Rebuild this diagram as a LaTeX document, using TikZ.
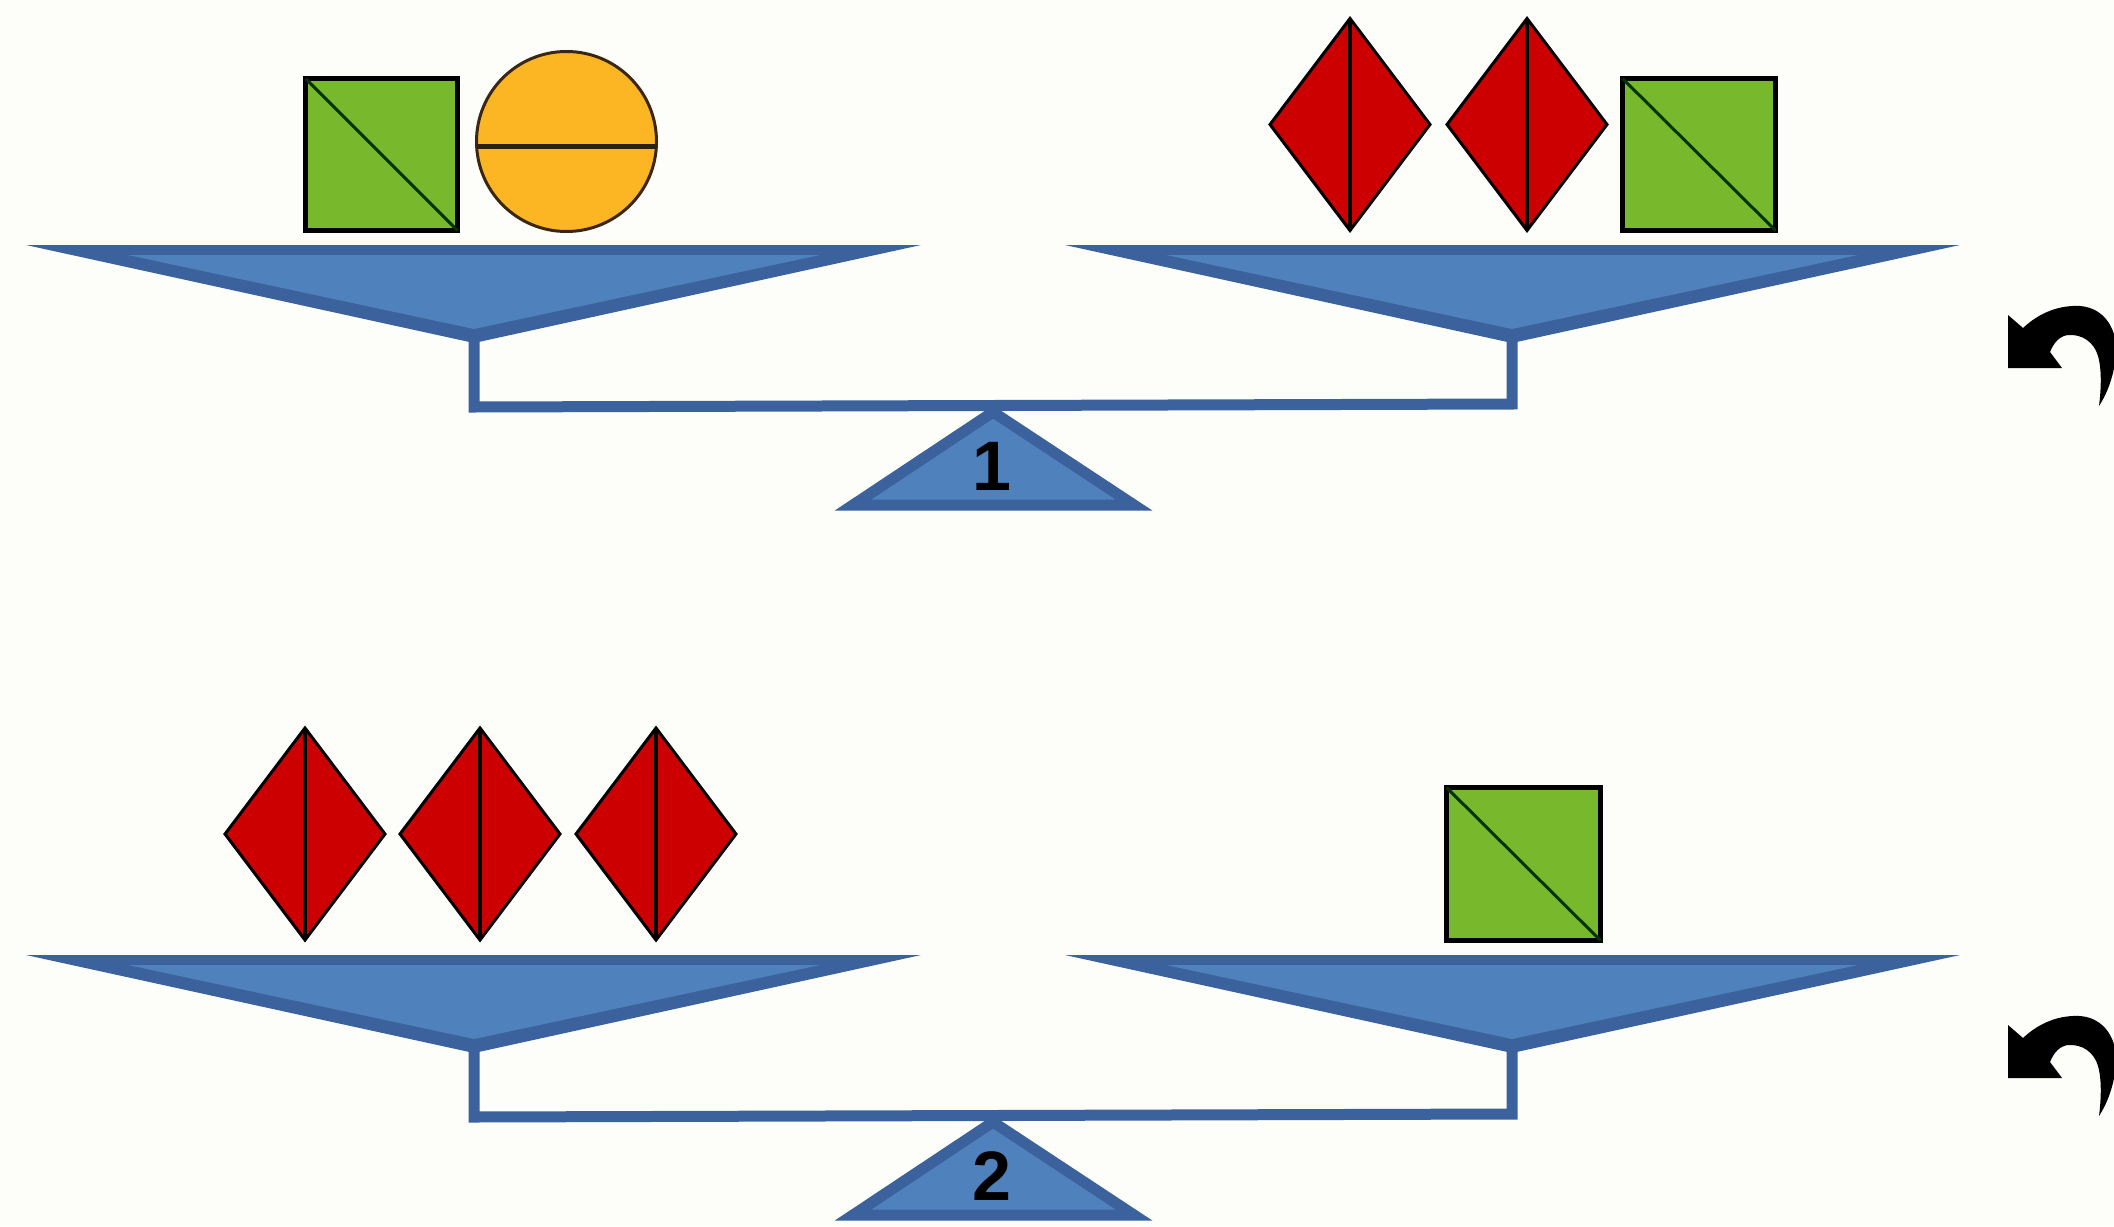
\documentclass[tikz,border=0pt]{standalone}
\usepackage{fontspec}
\setmainfont{Liberation Sans}
\definecolor{panfill}{RGB}{79,129,189}
\definecolor{panline}{RGB}{59,98,156}
\definecolor{sqgreen}{RGB}{120,184,44}
\definecolor{ballorange}{RGB}{252,182,36}
\definecolor{gemred}{RGB}{204,0,0}
\definecolor{bgcol}{RGB}{253,254,250}
\begin{document}
\begin{tikzpicture}[x=0.5pt,y=-0.5pt,
  panouter/.style={fill=panline},
  paninner/.style={fill=panfill},
  fulcrum/.style={fill=panfill,draw=panline,line width=5.5pt,line join=miter,miter limit=30},
  beamline/.style={draw=panline,line width=5.5pt,line join=miter},
  greensq/.style={fill=sqgreen,draw=black,line width=2.5pt},
  diagline/.style={draw=black!80!green,line width=1.5pt},
  ballshape/.style={fill=ballorange,draw=black!70!brown,line width=1.5pt},
  gemshape/.style={fill=gemred,draw=black,line width=1.5pt,line join=miter},
  gemline/.style={draw=black,line width=2pt},
  numlabel/.style={font=\bfseries\fontsize{35}{40}\selectfont,inner sep=0pt},
  turnarrow/.style={fill=black}
]
\fill[bgcol] (0,0) rectangle (2114,1226);
\useasboundingbox (0,0) rectangle (2114,1226);

% ---------- common scale drawing ----------
\foreach \dy/\lab in {0/1,710/2}{
\begin{scope}[shift={(0,\dy)}]
  % fulcrum
  \draw[fulcrum] (853,505) -- (1134,505) -- (993,412) -- cycle;
  % beam with stems
  \draw[beamline] (474,335) -- (474,407) -- (1512,404) -- (1512,335);
  % pans
  \fill[panouter] (26,245) -- (921,245) -- (474,343) -- cycle;
  \fill[paninner] (128,255) -- (820,255) -- (474,329) -- cycle;
  \fill[panouter] (1065,245) -- (1960,245) -- (1512,343) -- cycle;
  \fill[paninner] (1166,255) -- (1858,255) -- (1512,329) -- cycle;
  % number
  \node[numlabel] (lab\lab) at (992,466) {\lab};
  % rotation arrow
  \fill[turnarrow] (2008,315) -- (2023,328)
     .. controls (2040,312) and (2060,305) .. (2080,306)
     .. controls (2105,308) and (2118,330) .. (2116,355)
     .. controls (2114,375) and (2108,392) .. (2099,406)
     .. controls (2101,390) and (2102,370) .. (2098,356)
     .. controls (2094,342) and (2082,334) .. (2068,335)
     .. controls (2060,336) and (2054,342) .. (2050,352)
     -- (2062,368) -- (2008,368) -- cycle;
\end{scope}
}

% ---------- scale 1 loads ----------
\draw[greensq] (305.5,78.5) rectangle (457.5,230.5);
\draw[diagline] (305.5,78.5) -- (457.5,230.5);
\draw[ballshape] (566.5,141.5) circle (90);
\draw[draw=black!75!brown,line width=2.5pt] (476.6,146) -- (656.4,146);
\foreach \cx in {1350,1527}{
  \draw[gemshape] (\cx-80,124.5) -- (\cx,18.5) -- (\cx+80,124.5) -- (\cx,230.5) -- cycle;
  \draw[gemline] (\cx,18.5) -- (\cx,230.5);
}
\draw[greensq] (1622.5,78.5) rectangle (1775.5,230.5);
\draw[diagline] (1622.5,78.5) -- (1775.5,230.5);

% ---------- scale 2 loads ----------
\foreach \cx in {305,480,656}{
  \draw[gemshape] (\cx-80,834) -- (\cx,728) -- (\cx+80,834) -- (\cx,940) -- cycle;
  \draw[gemline] (\cx,728) -- (\cx,940);
}
\draw[greensq] (1446.5,787.5) rectangle (1600.5,940.5);
\draw[diagline] (1446.5,787.5) -- (1600.5,940.5);
\end{tikzpicture}
\end{document}
